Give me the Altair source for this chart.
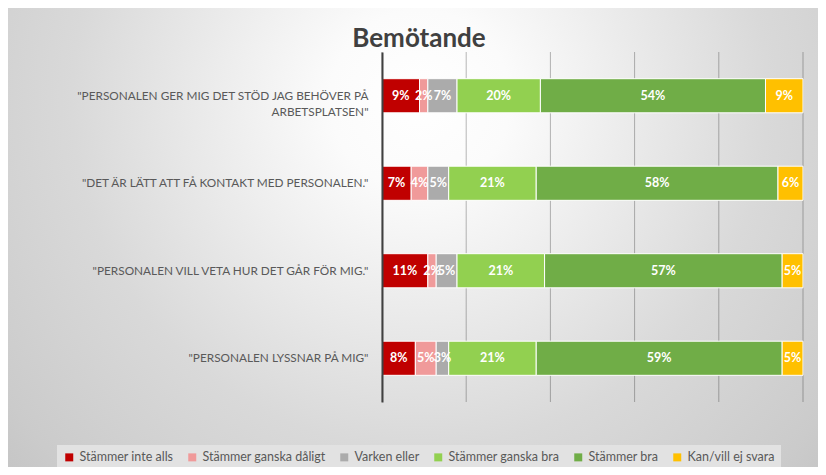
import altair as alt
import pandas as pd

# ---- data ----
title_text = "Bemötande"
questions = [
    '"PERSONALEN GER MIG DET STÖD JAG BEHÖVER PÅ|ARBETSPLATSEN"',
    '"DET ÄR LÄTT ATT FÅ KONTAKT MED PERSONALEN."',
    '"PERSONALEN VILL VETA HUR DET GÅR FÖR MIG."',
    '"PERSONALEN LYSSNAR PÅ MIG"',
]
categories = [
    "Stämmer inte alls",
    "Stämmer ganska dåligt",
    "Varken eller",
    "Stämmer ganska bra",
    "Stämmer bra",
    "Kan/vill ej svara",
]
colors = ["#C00000", "#F09A9A", "#ABABAB", "#92D050", "#70AD47", "#FFC000"]

stammer_inte_alls = [9, 7, 11, 8]
stammer_ganska_daligt = [2, 4, 2, 5]
varken_eller = [7, 5, 5, 3]
stammer_ganska_bra = [20, 21, 21, 21]
stammer_bra = [54, 58, 57, 59]
kan_vill_ej_svara = [9, 6, 5, 5]

grid_ticks = [0.0, 0.2, 0.4, 0.6, 0.8, 1.0]

series = [stammer_inte_alls, stammer_ganska_daligt, varken_eller,
          stammer_ganska_bra, stammer_bra, kan_vill_ej_svara]
rows = []
for ci, (cat, vals) in enumerate(zip(categories, series)):
    for q, v in zip(questions, vals):
        rows.append({"q": q, "cat": cat, "order": ci, "value": v})
df = pd.DataFrame(rows)

W, H = 421, 350
xscale = alt.Scale(domain=[0, 1], nice=False, zero=False)
yscale = alt.Scale(domain=questions, paddingInner=0.61, paddingOuter=0.305)

bg = alt.Chart(alt.Data(values=[{"k": 1}])).mark_rect(
    fill={
        "gradient": "radial",
        "x1": 0.5, "y1": 0.5, "r1": 0,
        "x2": 0.5, "y2": 0.5, "r2": 0.5,
        "stops": [
            {"offset": 0.0, "color": "#ffffff"},
            {"offset": 0.15, "color": "#fbfbfb"},
            {"offset": 0.58, "color": "#d9d9d9"},
            {"offset": 0.85, "color": "#cbcbcb"},
            {"offset": 1.0, "color": "#c0c0c0"},
        ],
    }
).encode(
    x=alt.value(-562), x2=alt.value(638), y=alt.value(-552), y2=alt.value(648)
)

title = alt.Chart(alt.Data(values=[{"t": title_text}])).mark_text(
    font="Lato", fontSize=26, fontWeight="bold", color="#404040",
    align="center", baseline="alphabetic",
).encode(x=alt.value(37), y=alt.value(-5), text="t:N")

grid = alt.Chart(pd.DataFrame({"t": grid_ticks})).mark_rule(
    color="#000000", opacity=0.28, strokeWidth=1
).encode(
    x=alt.X("t:Q", scale=xscale, axis=None),
    y=alt.value(0), y2=alt.value(H),
)

base = alt.Chart(df).transform_stack(
    stack="value", groupby=["q"], as_=["x0", "x1"],
    sort=[alt.SortField("order", order="ascending")], offset="normalize",
).transform_calculate(
    mid="(datum.x0 + datum.x1) / 2", label="datum.value + '%'"
)

yaxis = alt.Axis(
    title=None, labelExpr="split(datum.label, '|')", labelFont="Lato",
    labelFontSize=11.8, labelColor="#595959", labelLimit=400, labelPadding=14,
    labelLineHeight=16, ticks=False, domainColor="#404040", domainWidth=2,
    grid=False, zindex=1,
)

bars = base.mark_bar(stroke="white", strokeWidth=1).encode(
    x=alt.X("x0:Q", scale=xscale, axis=None),
    x2="x1:Q",
    y=alt.Y("q:N", sort=questions, scale=yscale, axis=yaxis),
    color=alt.Color(
        "cat:N",
        scale=alt.Scale(domain=categories, range=colors),
        legend=alt.Legend(
            title=None, orient="none", legendX=-325, legendY=393,
            direction="horizontal", columns=6, symbolType="square",
            symbolSize=64, symbolStrokeWidth=0, symbolOpacity=1,
            labelFont="Lato", labelFontSize=12.5, labelColor="#595959",
            fillColor="#e2e2e2", padding=6, columnPadding=12, labelOffset=4,
        ),
    ),
)

texts = base.mark_text(
    color="white", font="Lato", fontWeight="bold", fontSize=12.5
).encode(
    x=alt.X("mid:Q", scale=xscale, axis=None),
    y=alt.Y("q:N", sort=questions, scale=yscale, axis=yaxis),
    text="label:N",
)

chart = alt.layer(bg, grid, bars, texts, title).properties(
    width=W, height=H,
    padding={"left": 374, "top": 44, "right": 15, "bottom": 65},
    autosize=alt.AutoSizeParams(type="none"),
).configure_view(stroke=None).configure(font="Lato")

chart.save("out.html", embed_options={"renderer": "svg", "actions": False})
